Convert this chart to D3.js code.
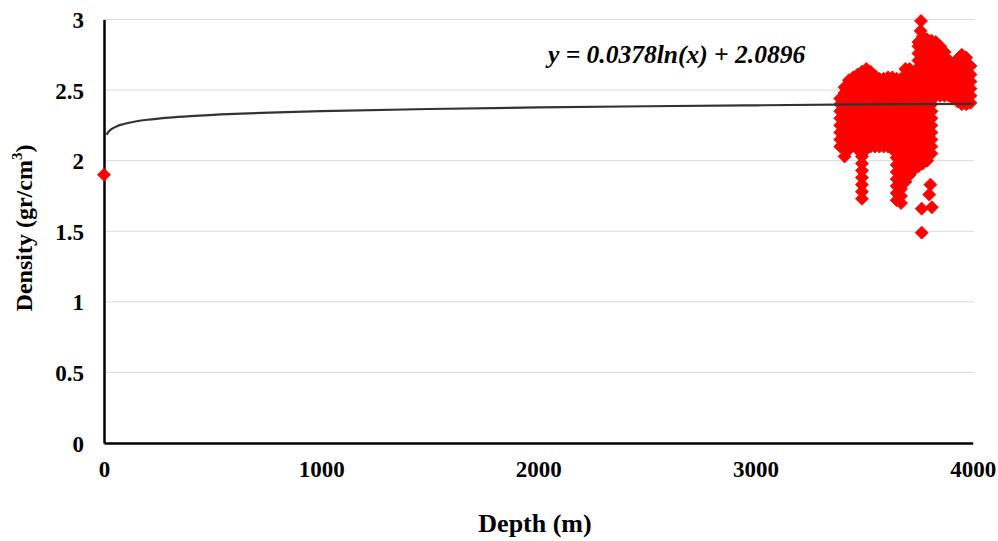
<!DOCTYPE html>
<html>
<head>
<meta charset="utf-8">
<script src="https://cdn.jsdelivr.net/npm/d3@7"></script>
<style>
  html, body { margin: 0; padding: 0; background: #ffffff; }
  svg { display: block; }
  text { font-family: "Liberation Serif", "Times New Roman", serif; font-weight: bold; fill: #000; }
</style>
</head>
<body>
<svg id="chart" width="998" height="541"></svg>
<script>
// ---------------- DATA ----------------
const xTicks = [0, 1000, 2000, 3000, 4000];
const yTicks = [0, 0.5, 1, 1.5, 2, 2.5, 3];

// surface sample
const surfaceDepth = [0];
const surfaceDensity = [1.9];

// well-log samples, grouped by depth (m) -> density readings (gr/cm3)
const depthColumns = [3390, 3410, 3430, 3450, 3470, 3490, 3510, 3530, 3550, 3570, 3590, 3610, 3630,
  3650, 3670, 3690, 3710, 3730, 3750, 3770, 3790, 3810, 3830, 3850, 3870, 3890, 3910, 3930, 3950, 3970, 3990];
const densityColumns = [
  [2.10, 2.15, 2.20, 2.25, 2.30, 2.35, 2.40, 2.44],
  [2.03, 2.08, 2.13, 2.18, 2.23, 2.28, 2.33, 2.38, 2.43, 2.48, 2.52],
  [2.08, 2.13, 2.18, 2.23, 2.28, 2.33, 2.38, 2.43, 2.48, 2.53, 2.57],
  [2.11, 2.16, 2.21, 2.26, 2.31, 2.36, 2.41, 2.46, 2.51, 2.56, 2.59],
  [2.08, 2.13, 2.18, 2.23, 2.28, 2.33, 2.38, 2.43, 2.48, 2.53, 2.58, 2.61],
  [1.73, 1.78, 1.83, 1.88, 1.93, 1.98, 2.03, 2.08, 2.13, 2.18, 2.23, 2.28, 2.33, 2.38, 2.43, 2.48, 2.53, 2.58, 2.63],
  [2.08, 2.13, 2.18, 2.23, 2.28, 2.33, 2.38, 2.43, 2.48, 2.53, 2.58, 2.63, 2.65],
  [2.10, 2.15, 2.20, 2.25, 2.30, 2.35, 2.40, 2.45, 2.50, 2.55, 2.60, 2.63],
  [2.10, 2.15, 2.20, 2.25, 2.30, 2.35, 2.40, 2.45, 2.50, 2.55, 2.60],
  [2.10, 2.15, 2.20, 2.25, 2.30, 2.35, 2.40, 2.45, 2.50, 2.55, 2.58],
  [2.10, 2.15, 2.20, 2.25, 2.30, 2.35, 2.40, 2.45, 2.50, 2.55, 2.58],
  [2.10, 2.15, 2.20, 2.25, 2.30, 2.35, 2.40, 2.45, 2.50, 2.55, 2.59],
  [2.08, 2.13, 2.18, 2.23, 2.28, 2.33, 2.38, 2.43, 2.48, 2.53, 2.59],
  [1.72, 1.77, 1.82, 1.87, 1.92, 1.97, 2.02, 2.07, 2.12, 2.17, 2.22, 2.27, 2.32, 2.37, 2.42, 2.47, 2.52, 2.58],
  [1.70, 1.75, 1.80, 1.85, 1.90, 1.95, 2.00, 2.05, 2.10, 2.15, 2.20, 2.25, 2.30, 2.35, 2.40, 2.45, 2.50, 2.55, 2.58],
  [1.85, 1.90, 1.95, 2.00, 2.05, 2.10, 2.15, 2.20, 2.25, 2.30, 2.35, 2.40, 2.45, 2.50, 2.55, 2.60, 2.65],
  [1.90, 1.95, 2.00, 2.05, 2.10, 2.15, 2.20, 2.25, 2.30, 2.35, 2.40, 2.45, 2.50, 2.55, 2.60, 2.65],
  [1.94, 1.99, 2.04, 2.09, 2.14, 2.19, 2.24, 2.29, 2.34, 2.39, 2.44, 2.49, 2.54, 2.59, 2.62],
  [1.96, 2.01, 2.06, 2.11, 2.16, 2.21, 2.26, 2.31, 2.36, 2.41, 2.46, 2.51, 2.56, 2.61, 2.66, 2.71, 2.76, 2.81, 2.84],
  [1.98, 2.03, 2.08, 2.13, 2.18, 2.23, 2.28, 2.33, 2.38, 2.43, 2.48, 2.53, 2.58, 2.63, 2.68, 2.73, 2.78, 2.83, 2.88],
  [2.00, 2.05, 2.10, 2.15, 2.20, 2.25, 2.30, 2.35, 2.40, 2.45, 2.50, 2.55, 2.60, 2.65, 2.70, 2.75, 2.80, 2.86],
  [2.05, 2.10, 2.15, 2.20, 2.25, 2.30, 2.35, 2.40, 2.45, 2.50, 2.55, 2.60, 2.65, 2.70, 2.75, 2.80, 2.85],
  [2.46, 2.51, 2.56, 2.61, 2.66, 2.71, 2.76, 2.80, 2.84],
  [2.46, 2.51, 2.56, 2.61, 2.66, 2.71, 2.76, 2.81],
  [2.46, 2.51, 2.56, 2.61, 2.66, 2.71, 2.77],
  [2.46, 2.51, 2.56, 2.61, 2.66, 2.71],
  [2.44, 2.49, 2.54, 2.59, 2.64, 2.68],
  [2.42, 2.47, 2.52, 2.57, 2.62, 2.67, 2.72],
  [2.40, 2.45, 2.50, 2.55, 2.60, 2.65, 2.70, 2.75],
  [2.40, 2.45, 2.50, 2.55, 2.60, 2.65, 2.69, 2.73],
  [2.41, 2.46, 2.51, 2.56, 2.61, 2.67]
];

// isolated outliers
const extraDepth = [3762, 3760, 3805, 3800, 3765, 3812, 3765];
const extraDensity = [2.99, 2.92, 1.83, 1.76, 1.66, 1.67, 1.49];

// logarithmic trendline
const trendA = 0.0378;
const trendB = 2.0896;
const trendDepths = [12, 15, 20, 30, 40, 60, 80, 100, 150, 200, 300, 400, 600, 800, 1000, 1500, 2000, 2500, 3000, 3500, 4000];
const equationText = "y = 0.0378ln(x) + 2.0896";

// ---------------- CHART ----------------
const svg = d3.select("#chart");
const plotLeft = 104, plotRight = 972.7, plotTop = 19.5, plotBottom = 443;

const x = d3.scaleLinear().domain([0, 4000]).range([plotLeft, plotRight]);
const y = d3.scaleLinear().domain([0, 3]).range([plotBottom, plotTop]);

// gridlines
svg.append("g")
  .selectAll("line")
  .data(yTicks.filter(d => d > 0))
  .join("line")
  .attr("x1", plotLeft).attr("x2", plotRight + 1)
  .attr("y1", d => y(d)).attr("y2", d => y(d))
  .attr("stroke", "#d9d9d9").attr("stroke-width", 1);

// points
const points = [];
surfaceDepth.forEach((d, i) => points.push([d, surfaceDensity[i]]));
depthColumns.forEach((d, i) => densityColumns[i].forEach(v => points.push([d, v])));
extraDepth.forEach((d, i) => points.push([d, extraDensity[i]]));

const r = 6.5;
const diamond = `M0,${-r}L${r},0L0,${r}L${-r},0Z`;

const line = d3.line().x(d => x(d)).y(d => y(trendA * Math.log(d) + trendB)).curve(d3.curveMonotoneX);

// axes
const xAxis = d3.axisBottom(x).tickValues(xTicks).tickSize(0).tickPadding(0).tickFormat(d3.format("d"));
const gx = svg.append("g").attr("transform", `translate(0,${plotBottom})`).call(xAxis);
gx.select(".domain").attr("stroke", "#000").attr("stroke-width", 2.5);
gx.selectAll("text").attr("dy", null).attr("y", 34).attr("font-size", 23)
  .style("font-family", '"Liberation Serif", serif').style("font-weight", "bold");

const yAxis = d3.axisLeft(y).tickValues(yTicks).tickSize(0).tickPadding(0).tickFormat(d => String(d));
const gy = svg.append("g").attr("transform", `translate(${plotLeft},0)`).call(yAxis);
gy.select(".domain").attr("stroke", "#000").attr("stroke-width", 2.5);
gy.selectAll("text").attr("x", -20).attr("dy", "0.35em").attr("font-size", 23)
  .style("font-family", '"Liberation Serif", serif').style("font-weight", "bold");

svg.append("g")
  .selectAll("path")
  .data(points)
  .join("path")
  .attr("d", diamond)
  .attr("transform", d => `translate(${x(d[0])},${y(d[1])})`)
  .attr("fill", "#ff0000")
  .attr("stroke", "#ff0000")
  .attr("stroke-width", 0.8);

// trendline (drawn over the markers, as in the reference)
svg.append("path")
  .datum(trendDepths)
  .attr("d", line)
  .attr("fill", "none")
  .attr("stroke", "#333333")
  .attr("stroke-width", 2.2);

// equation
svg.append("text")
  .attr("x", 548).attr("y", 63)
  .attr("font-size", 25.5)
  .attr("font-style", "italic")
  .text(equationText);

// axis titles
svg.append("text")
  .attr("x", 535).attr("y", 532)
  .attr("text-anchor", "middle")
  .attr("font-size", 26)
  .text("Depth (m)");

const yt = svg.append("text")
  .attr("transform", "translate(32,228) rotate(-90)")
  .attr("text-anchor", "middle")
  .attr("font-size", 24);
yt.append("tspan").text("Density (gr/cm");
yt.append("tspan").attr("font-size", 15).attr("dy", -10).text("3");
yt.append("tspan").attr("dy", 10).text(")");
</script>
</body>
</html>
